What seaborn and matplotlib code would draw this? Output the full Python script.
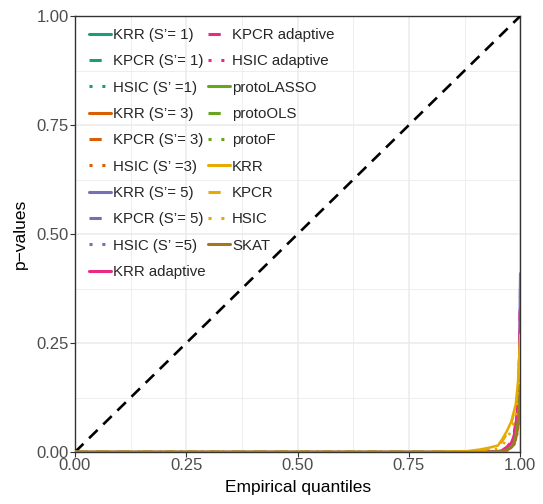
import pandas as pd
import matplotlib
matplotlib.use("Agg")
import matplotlib.pyplot as plt
import seaborn as sns
from matplotlib.lines import Line2D

# --- dados ---
quantis = [0.0, 0.80, 0.88, 0.91, 0.93, 0.95, 0.96, 0.97, 0.98, 0.985, 0.99, 0.995, 0.998, 1.0]

metodos = ["KRR (S\u2019= 1)", "KPCR (S\u2019= 1)", "HSIC (S\u2019 =1)",
           "KRR (S\u2019= 3)", "KPCR (S\u2019= 3)", "HSIC (S\u2019 =3)",
           "KRR (S\u2019= 5)", "KPCR (S\u2019= 5)", "HSIC (S\u2019 =5)",
           "KRR adaptive", "KPCR adaptive", "HSIC adaptive",
           "protoLASSO", "protoOLS", "protoF",
           "KRR", "KPCR", "HSIC", "SKAT"]

pvalores = [
    [0, 0, 0, 0, 0, 0.001, 0.002, 0.005, 0.012, 0.02, 0.035, 0.07, 0.12, 0.20],
    [0, 0, 0, 0, 0, 0.001, 0.002, 0.006, 0.014, 0.022, 0.04, 0.08, 0.14, 0.24],
    [0, 0, 0, 0, 0, 0.000, 0.001, 0.003, 0.008, 0.015, 0.03, 0.06, 0.10, 0.18],
    [0, 0, 0, 0, 0, 0.001, 0.003, 0.007, 0.016, 0.025, 0.045, 0.09, 0.17, 0.29],
    [0, 0, 0, 0, 0, 0.001, 0.003, 0.008, 0.018, 0.028, 0.05, 0.10, 0.18, 0.30],
    [0, 0, 0, 0, 0, 0.000, 0.001, 0.004, 0.010, 0.018, 0.03, 0.06, 0.11, 0.19],
    [0, 0, 0, 0, 0, 0.001, 0.003, 0.008, 0.02, 0.03, 0.055, 0.11, 0.22, 0.41],
    [0, 0, 0, 0, 0, 0.001, 0.003, 0.008, 0.02, 0.032, 0.06, 0.12, 0.22, 0.38],
    [0, 0, 0, 0, 0, 0.000, 0.001, 0.004, 0.01, 0.018, 0.035, 0.07, 0.12, 0.22],
    [0, 0, 0, 0, 0.001, 0.002, 0.004, 0.010, 0.022, 0.035, 0.06, 0.12, 0.20, 0.33],
    [0, 0, 0, 0, 0.001, 0.002, 0.005, 0.012, 0.025, 0.04, 0.07, 0.13, 0.22, 0.35],
    [0, 0, 0, 0, 0, 0.001, 0.002, 0.006, 0.014, 0.022, 0.04, 0.08, 0.14, 0.25],
    [0, 0, 0, 0, 0, 0.001, 0.002, 0.005, 0.012, 0.02, 0.035, 0.07, 0.11, 0.17],
    [0, 0, 0, 0, 0, 0.001, 0.002, 0.005, 0.013, 0.021, 0.038, 0.075, 0.12, 0.19],
    [0, 0, 0, 0, 0, 0.000, 0.001, 0.003, 0.008, 0.014, 0.025, 0.05, 0.09, 0.15],
    [0, 0, 0.002, 0.006, 0.010, 0.015, 0.03, 0.048, 0.07, 0.09, 0.11, 0.16, 0.22, 0.27],
    [0, 0, 0.001, 0.004, 0.008, 0.013, 0.025, 0.042, 0.065, 0.085, 0.10, 0.15, 0.21, 0.26],
    [0, 0, 0, 0.002, 0.004, 0.008, 0.015, 0.03, 0.05, 0.065, 0.08, 0.12, 0.17, 0.22],
    [0, 0, 0, 0, 0, 0.001, 0.002, 0.004, 0.01, 0.016, 0.028, 0.055, 0.09, 0.14],
]

cores_base = ["#1B9E77", "#D95F02", "#7570B3", "#E7298A", "#66A61E", "#E6AB02"]
cores = [c for c in cores_base for _ in range(3)] + ["#A6761D"]
estilos = ["", (4, 5), (1, 3.2)] * 6 + [""]

# --- tabela longa ---
linhas = []
for m, pv in zip(metodos, pvalores):
    for q, p in zip(quantis, pv):
        linhas.append({"metodo": m, "q": q, "p": p})
df = pd.DataFrame(linhas)

paleta = dict(zip(metodos, cores))
tracos = dict(zip(metodos, estilos))

sns.set_theme(style="whitegrid")
plt.rcParams["font.family"] = ["Liberation Sans", "DejaVu Sans"]

fig = plt.figure(figsize=(5.43, 5.04), dpi=100)
ax = fig.add_axes([0.138, 0.103, 0.82, 0.865])

# grade menor e maior estilo ggplot
for v in [0.125, 0.375, 0.625, 0.875]:
    ax.axvline(v, color="#EBEBEB", lw=0.6, zorder=0)
    ax.axhline(v, color="#EBEBEB", lw=0.6, zorder=0)
ax.set_xticks([0, 0.25, 0.5, 0.75, 1.0])
ax.set_yticks([0, 0.25, 0.5, 0.75, 1.0])
ax.grid(True, color="#EBEBEB", lw=1.1)
ax.set_axisbelow(True)

ax.plot([0, 1], [0, 1], color="black", lw=1.9, dashes=(4.5, 3), zorder=3)

sns.lineplot(data=df, x="q", y="p", hue="metodo", style="metodo",
             palette=paleta, dashes=tracos, estimator=None, sort=False,
             lw=1.8, legend=False, ax=ax, zorder=4)

ax.set_xlim(0, 1)
ax.set_ylim(0, 1)
ax.set_xticklabels(["0.00", "0.25", "0.50", "0.75", "1.00"])
ax.set_yticklabels(["0.00", "0.25", "0.50", "0.75", "1.00"])
ax.tick_params(axis="both", labelsize=12, labelcolor="#4D4D4D", length=3.5,
               width=0.8, color="#333333", direction="out", pad=1)
ax.tick_params(axis="x", bottom=True)
ax.tick_params(axis="y", left=True)
for lado in ["left", "bottom", "top", "right"]:
    ax.spines[lado].set_color("#333333")
    ax.spines[lado].set_linewidth(1.0)
ax.set_xlabel("Empirical quantiles", fontsize=12.5, color="black", labelpad=5)
ax.set_ylabel("p\u2212values", fontsize=12.5, color="black", labelpad=6)

alcas = [Line2D([], [], color=c, lw=2.2,
                linestyle="-" if e == "" else (0, e))
         for c, e in zip(cores, estilos)]
ax.legend(alcas, metodos, ncol=2, loc="upper left", bbox_to_anchor=(0.005, 1.0),
          frameon=False, fontsize=10.8, handlelength=1.45, handletextpad=0.15,
          columnspacing=0.15, labelspacing=0.82, borderpad=0.3)

fig.savefig("out.png", dpi=100)
